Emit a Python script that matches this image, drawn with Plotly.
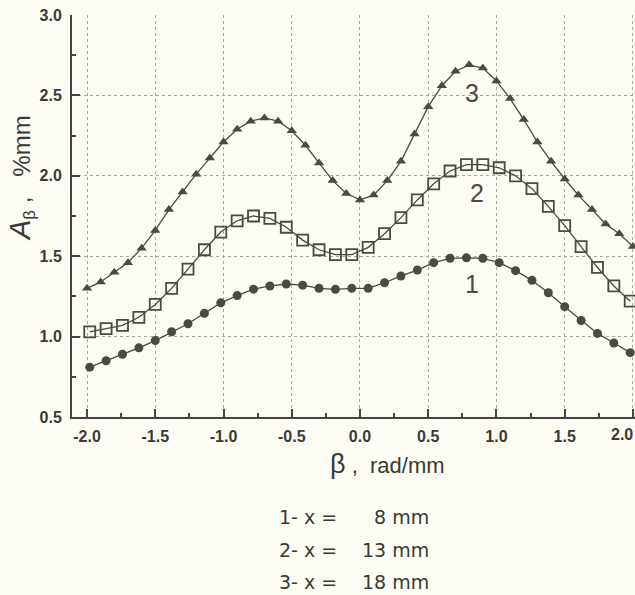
import plotly.graph_objects as go

# ---- data ----
beta_tri = [-2.0, -1.9, -1.8, -1.7, -1.6, -1.5, -1.4, -1.3, -1.2, -1.1, -1.0,
            -0.9, -0.8, -0.7, -0.6, -0.5, -0.4, -0.3, -0.2, -0.1, 0.0,
            0.1, 0.2, 0.3, 0.4, 0.5, 0.6, 0.7, 0.8, 0.9, 1.0,
            1.1, 1.2, 1.3, 1.4, 1.5, 1.6, 1.7, 1.8, 1.9, 2.0]
a_x18 = [1.30, 1.34, 1.40, 1.46, 1.55, 1.66, 1.79, 1.90, 2.01, 2.11, 2.21,
         2.29, 2.34, 2.36, 2.34, 2.28, 2.19, 2.08, 1.97, 1.89, 1.85,
         1.88, 1.97, 2.09, 2.26, 2.43, 2.56, 2.65, 2.69, 2.67, 2.59,
         2.48, 2.35, 2.21, 2.09, 1.98, 1.88, 1.79, 1.70, 1.64, 1.56]

beta_sq = [-1.98, -1.86, -1.74, -1.62, -1.50, -1.38, -1.26, -1.14, -1.02, -0.90,
           -0.78, -0.66, -0.54, -0.42, -0.30, -0.18, -0.06, 0.06, 0.18, 0.30,
           0.42, 0.54, 0.66, 0.78, 0.90, 1.02, 1.14, 1.26, 1.38, 1.50,
           1.62, 1.74, 1.86, 1.98]
a_x13 = [1.03, 1.05, 1.07, 1.12, 1.20, 1.30, 1.42, 1.54, 1.65, 1.72,
         1.75, 1.735, 1.68, 1.60, 1.54, 1.51, 1.51, 1.555, 1.64, 1.74,
         1.85, 1.95, 2.03, 2.07, 2.07, 2.05, 2.00, 1.92, 1.81, 1.69,
         1.56, 1.43, 1.315, 1.22]

beta_ci = beta_sq
a_x8 = [0.81, 0.85, 0.89, 0.93, 0.975, 1.03, 1.08, 1.145, 1.21, 1.255,
        1.295, 1.315, 1.327, 1.32, 1.30, 1.294, 1.30, 1.30, 1.335, 1.377,
        1.414, 1.46, 1.487, 1.49, 1.487, 1.46, 1.41, 1.35, 1.273, 1.186,
        1.10, 1.02, 0.96, 0.90]

x_tickvals = [-2.0, -1.5, -1.0, -0.5, 0.0, 0.5, 1.0, 1.5, 2.0]
x_ticktext = ["-2.0", "-1.5", "-1.0", "-0.5", "0.0", "0.5", "1.0", "1.5", ""]
x_last_label = "2.0"
y_tickvals = [0.5, 1.0, 1.5, 2.0, 2.5, 3.0]
y_ticktext = ["0.5", "1.0", "1.5", "2.0", "2.5", "3.0"]

curve_labels = ["3", "2", "1"]
curve_label_x = [0.82, 0.86, 0.82]
curve_label_y = [2.515, 1.89, 1.33]

legend_left = ["1- x =", "2- x =", "3- x ="]
legend_right = ["8 mm", "13 mm", "18 mm"]

INK = "#4a4a3e"
TXT = "#3a3a34"

W, H = 635, 595
ML, MR, MT, MB = 72, 0, 15, 178
PW, PH = W - ML - MR, H - MT - MB


def px_x(p):
    return (p - ML) / PW


def px_y(p):
    return (H - MB - p) / PH


fig = go.Figure()
fig.add_trace(go.Scatter(x=beta_tri, y=a_x18, mode="lines+markers",
                         line=dict(color=INK, width=1.3),
                         marker=dict(symbol="triangle-up", size=9, color=INK),
                         showlegend=False))
fig.add_trace(go.Scatter(x=beta_sq, y=a_x13, mode="lines+markers",
                         line=dict(color=INK, width=1.3),
                         marker=dict(symbol="square-open", size=11, color=INK,
                                     line=dict(width=1.8, color=INK)),
                         showlegend=False))
fig.add_trace(go.Scatter(x=beta_ci, y=a_x8, mode="lines+markers",
                         line=dict(color=INK, width=1.3),
                         marker=dict(symbol="circle", size=9, color=INK),
                         showlegend=False))

tickfont = dict(family="Liberation Sans", size=16, color=TXT)

annotations = []
for t, xx, yy in zip(curve_labels, curve_label_x, curve_label_y):
    annotations.append(dict(x=xx, y=yy, xref="x", yref="y", text=t, showarrow=False,
                            xanchor="center", yanchor="middle",
                            font=dict(family="Liberation Sans", size=25, color="#4a4a44")))

annotations.append(dict(x=1.0, y=px_y(435), xref="paper", yref="paper",
                        text="<b>" + x_last_label + "</b>", showarrow=False,
                        xanchor="right", yanchor="middle", font=tickfont))

annotations.append(dict(x=px_x(21), y=px_y(178), xref="paper", yref="paper",
                        text="<i><span style='font-size:29px'>A</span></i><sub>β</sub> ,   %mm",
                        textangle=-90, showarrow=False, xanchor="center", yanchor="middle",
                        font=dict(family="Liberation Sans", size=24, color=TXT)))
annotations.append(dict(x=px_x(387), y=px_y(464), xref="paper", yref="paper",
                        text="<span style='font-size:27px'>β</span> ,  rad/mm", showarrow=False,
                        xanchor="center", yanchor="middle",
                        font=dict(family="Liberation Sans", size=22, color=TXT)))

legend_y = [517, 550, 582]
for l, r, yy in zip(legend_left, legend_right, legend_y):
    annotations.append(dict(x=px_x(277), y=px_y(yy), xref="paper", yref="paper",
                            text=l, showarrow=False, xanchor="left", yanchor="middle",
                            font=dict(family="DejaVu Sans", size=19, color=TXT)))
    annotations.append(dict(x=px_x(431), y=px_y(yy), xref="paper", yref="paper",
                            text=r, showarrow=False, xanchor="right", yanchor="middle",
                            font=dict(family="DejaVu Sans", size=19, color=TXT)))

fig.update_layout(
    width=W, height=H,
    margin=dict(l=ML, r=MR, t=MT, b=MB, pad=0),
    paper_bgcolor="#fcfcf5", plot_bgcolor="#fcfcf5",
    annotations=annotations,
    showlegend=False,
)
fig.update_xaxes(range=[-2.11, 2.015], tickvals=x_tickvals,
                 ticktext=["<b>" + t + "</b>" if t else "" for t in x_ticktext],
                 ticks="inside", ticklen=8, tickwidth=1.5, tickcolor="#444",
                 showline=True, linecolor="#444", linewidth=2,
                 showgrid=True, gridcolor="#a8a8a0", griddash="dot", gridwidth=1,
                 zeroline=False, automargin=False, ticklabelstandoff=4,
                 minor=dict(ticks="inside", ticklen=4, dtick=0.25, tick0=0, tickcolor="#444", showgrid=False),
                 tickfont=tickfont)
fig.update_yaxes(range=[0.5, 3.0], tickvals=y_tickvals,
                 ticktext=["<b>" + t + "</b>" for t in y_ticktext],
                 ticks="inside", ticklen=8, tickwidth=1.5, tickcolor="#444",
                 showline=True, linecolor="#444", linewidth=2,
                 showgrid=True, gridcolor="#a8a8a0", griddash="dot", gridwidth=1,
                 zeroline=False, automargin=False, ticklabelstandoff=5,
                 minor=dict(ticks="inside", ticklen=4, dtick=0.25, tick0=0, tickcolor="#444", showgrid=False),
                 tickfont=tickfont)

fig.write_html("out.html")
